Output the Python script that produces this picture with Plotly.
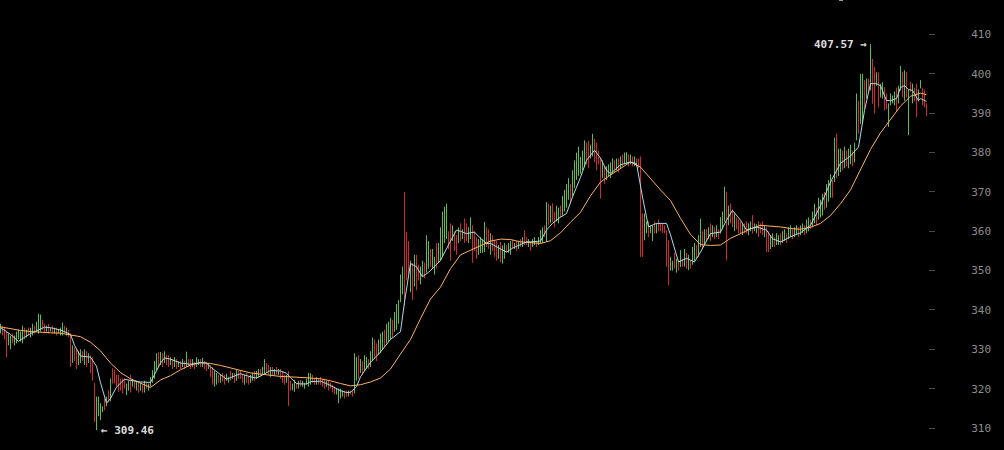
import plotly.graph_objects as go

# ---- per-bar price ranges (one bar every index) ----
low = [
    334.0, 333.5, 332.5, 328.0, 331.0, 330.0, 331.5, 331.0, 331.5, 332.5,
    332.0, 331.5, 332.5, 333.0, 333.5, 333.0, 333.5, 334.0, 334.5, 334.0,
    334.5, 335.0, 334.0, 334.5, 334.0, 334.5, 334.0, 334.0, 333.5, 334.0,
    333.5, 333.5, 334.0, 333.5, 333.0, 325.5, 326.5, 327.0, 325.0, 326.0,
    326.5, 327.0, 326.0, 325.5, 326.5, 324.0, 322.0, 311.5, 309.46, 313.0,
    312.0, 314.0, 314.5, 315.5, 316.5, 316.8, 321.3, 321.3, 320.5, 319.2,
    319.5, 318.8, 320.0, 318.4, 319.5, 319.0, 320.5, 320.0, 319.5, 319.0,
    319.5, 319.0, 319.0, 320.0, 319.5, 320.5, 321.5, 322.5, 324.7, 325.5,
    326.0, 325.5, 326.5, 326.0, 325.5, 326.0, 325.0, 325.5, 325.0, 325.5,
    325.0, 325.5, 325.0, 325.5, 325.5, 325.0, 325.5, 325.0, 325.5, 326.0,
    325.5, 325.5, 325.0, 324.5, 325.0, 323.0, 321.0, 320.5, 321.0, 321.5,
    321.5, 321.8, 321.0, 322.0, 321.5, 322.0, 322.5, 321.5, 322.0, 322.5,
    322.5, 321.5, 321.0, 321.5, 321.0, 321.5, 322.0, 322.0, 322.5, 323.0,
    323.0, 323.5, 323.5, 324.0, 323.5, 323.0, 323.5, 323.5, 323.5, 323.5,
    322.5, 321.5, 321.0, 321.5, 315.6, 319.5, 319.6, 319.2, 320.0, 320.0,
    320.5, 320.5, 320.0, 321.0, 320.5, 321.0, 321.5, 321.0, 321.0, 321.0,
    321.0, 320.5, 320.0, 320.5, 319.5, 320.0, 319.0, 318.5, 318.5, 316.3,
    317.5, 318.0, 317.5, 318.0, 318.0, 318.5, 318.0, 318.8, 322.0, 322.5,
    324.0, 323.5, 324.5, 325.0, 325.0, 325.5, 327.0, 327.5, 327.0, 328.5,
    329.0, 330.0, 330.5, 331.5, 332.0, 332.5, 333.0, 334.5, 335.0, 336.5,
    342.0, 344.0, 341.0, 347.5, 349.0, 344.5, 342.5, 346.0, 345.0, 347.5,
    346.5, 348.5, 348.0, 349.5, 350.5, 351.0, 350.5, 349.0, 350.5, 352.0,
    352.5, 353.5, 357.0, 358.0, 355.5, 352.5, 357.5, 355.0, 354.0, 357.0,
    357.5, 358.0, 357.0, 357.5, 357.0, 358.0, 352.0, 355.0, 353.0, 354.0,
    354.5, 354.5, 354.7, 356.0, 355.5, 354.0, 355.0, 353.5, 352.5, 353.0,
    352.2, 351.8, 353.0, 354.5, 354.5, 354.0, 355.5, 355.5, 355.0, 355.5,
    356.0, 356.0, 356.5, 356.5, 356.0, 355.0, 356.0, 356.5, 356.0, 356.5,
    356.9, 357.0, 358.5, 357.3, 361.5, 362.0, 362.4, 361.0, 362.5, 362.0,
    363.5, 364.0, 365.0, 366.0, 368.0, 367.0, 369.0, 371.0, 373.0, 374.0,
    374.6, 375.5, 376.3, 377.0, 376.0, 378.5, 379.0, 377.5, 375.5, 377.0,
    368.3, 373.5, 372.0, 373.0, 374.0, 373.5, 374.5, 375.0, 375.5, 375.0,
    376.0, 376.5, 377.0, 377.0, 376.5, 377.0, 376.5, 376.5, 376.5, 376.0,
    353.5, 353.5, 357.7, 359.5, 358.5, 359.5, 357.5, 359.5, 359.5, 360.0,
    360.0, 359.5, 359.5, 351.0, 346.3, 350.0, 350.0, 350.5, 349.5, 350.0,
    350.9, 351.0, 351.0, 350.5, 350.1, 350.5, 351.5, 352.5, 353.0, 353.5,
    356.0, 355.5, 356.5, 357.5, 358.0, 357.5, 358.5, 358.0, 358.5, 358.0,
    359.4, 360.5, 362.4, 352.6, 361.5, 362.0, 361.0, 360.0, 360.5, 359.5,
    359.5, 359.0, 359.5, 359.5, 359.0, 360.0, 359.4, 360.0, 359.5, 358.5,
    359.5, 359.0, 358.5, 354.7, 354.7, 355.5, 356.0, 356.0, 356.5, 356.5,
    356.5, 357.0, 357.5, 357.0, 358.0, 358.5, 358.0, 358.5, 359.0, 358.5,
    359.0, 359.5, 359.0, 359.5, 360.0, 360.5, 361.0, 362.0, 361.5, 363.0,
    363.5, 364.0, 365.5, 366.0, 367.5, 368.5, 368.5, 372.5, 373.5, 374.0,
    375.0, 375.5, 376.0, 376.5, 376.0, 377.0, 376.5, 377.5, 383.1, 384.8,
    387.3, 387.7, 391.1, 393.7, 395.5, 395.8, 392.4, 389.9, 397.0, 391.5,
    394.0, 393.7, 390.7, 391.0, 386.5, 392.0, 392.5, 392.0, 390.5, 392.5,
    395.8, 394.0, 393.2, 394.0, 384.4, 395.5, 392.5, 393.0, 389.0, 393.0,
    396.3, 392.0, 391.5, 389.3,
]
high = [
    336.5, 336.0, 335.5, 334.5, 334.0, 333.5, 334.0, 333.5, 334.5, 335.0,
    334.5, 336.0, 335.5, 335.0, 335.5, 335.5, 336.5, 336.0, 337.0, 339.0,
    338.8, 337.5, 336.5, 336.0, 336.5, 335.5, 336.0, 335.5, 335.5, 335.0,
    335.5, 336.8, 336.0, 335.5, 335.0, 334.0, 331.0, 330.5, 330.0, 329.5,
    330.0, 329.5, 330.0, 329.5, 329.0, 328.5, 328.0, 321.5, 318.0, 318.0,
    316.3, 315.5, 317.5, 318.0, 319.6, 322.6, 325.2, 324.8, 323.5, 323.5,
    322.6, 322.6, 322.5, 321.3, 322.0, 323.5, 322.5, 321.8, 322.0, 321.5,
    321.5, 321.0, 322.0, 321.5, 321.3, 323.0, 324.7, 327.0, 329.0, 329.3,
    329.3, 329.0, 329.5, 328.5, 328.5, 328.0, 327.5, 328.0, 327.5, 327.0,
    327.0, 327.5, 327.0, 329.4, 327.5, 327.5, 327.5, 326.8, 328.0, 327.5,
    327.5, 327.8, 327.0, 326.5, 326.5, 326.0, 325.5, 324.5, 324.0, 323.5,
    323.5, 324.0, 323.5, 323.8, 323.0, 324.5, 324.0, 324.0, 325.0, 324.5,
    324.5, 323.5, 323.5, 324.0, 323.0, 323.5, 324.0, 324.5, 324.5, 325.0,
    325.0, 325.5, 327.5, 326.5, 326.0, 325.5, 325.5, 325.0, 325.5, 325.0,
    325.0, 324.5, 323.5, 323.5, 324.5, 322.0, 321.3, 322.2, 321.5, 322.0,
    322.2, 322.0, 321.5, 322.5, 324.0, 323.9, 323.5, 322.5, 323.0, 322.5,
    323.0, 322.5, 322.5, 322.0, 322.0, 321.5, 321.0, 320.5, 320.0, 320.0,
    320.0, 319.5, 319.5, 319.5, 319.5, 319.5, 319.5, 329.0, 328.0, 328.5,
    327.5, 327.0, 328.5, 328.0, 327.5, 329.5, 333.0, 332.5, 331.5, 332.5,
    334.0, 334.5, 335.0, 336.5, 337.0, 338.0, 337.5, 339.5, 341.5, 342.5,
    349.0, 351.0, 370.0, 359.8, 357.5, 352.5, 352.0, 354.0, 354.0, 351.5,
    351.0, 352.5, 352.0, 359.0, 357.5, 355.5, 355.5, 353.5, 357.0, 357.0,
    361.0, 365.0, 366.2, 367.0, 360.0, 362.0, 361.5, 360.0, 359.0, 361.0,
    362.0, 360.5, 363.2, 362.0, 361.0, 363.5, 361.5, 360.0, 358.5, 358.0,
    358.5, 358.0, 362.4, 361.0, 360.5, 359.5, 359.0, 357.7, 357.5, 356.5,
    357.3, 356.4, 357.0, 356.5, 357.0, 357.5, 357.8, 357.0, 357.5, 357.5,
    358.0, 358.5, 360.3, 358.5, 358.0, 357.5, 358.0, 358.5, 357.5, 358.5,
    360.3, 361.0, 361.5, 367.4, 367.0, 366.5, 367.1, 365.0, 366.5, 366.0,
    366.5, 369.0, 370.5, 372.0, 373.5, 372.0, 375.5, 378.0, 380.0, 381.5,
    378.9, 380.5, 383.1, 382.5, 383.0, 382.0, 384.8, 383.5, 382.5, 380.5,
    378.5, 378.0, 376.5, 376.5, 377.0, 377.5, 378.5, 378.0, 378.5, 378.5,
    379.0, 379.5, 380.0, 380.1, 379.5, 379.5, 379.0, 379.0, 378.5, 378.5,
    379.0, 364.5, 364.5, 362.5, 362.5, 361.5, 361.5, 362.5, 362.0, 363.0,
    362.0, 362.0, 361.5, 360.3, 357.7, 353.5, 352.5, 354.5, 353.0, 352.5,
    355.2, 353.0, 355.5, 354.5, 354.0, 352.5, 356.0, 357.0, 356.5, 359.0,
    363.2, 360.0, 360.5, 360.5, 361.0, 362.0, 361.5, 361.0, 361.5, 360.5,
    363.6, 365.0, 371.3, 370.0, 366.5, 367.0, 365.5, 364.5, 363.5, 363.0,
    362.5, 362.0, 362.0, 362.5, 362.0, 362.5, 364.1, 362.0, 361.8, 362.5,
    362.0, 362.5, 361.5, 361.0, 360.0, 359.0, 359.5, 358.5, 359.5, 359.0,
    359.5, 360.0, 360.5, 359.5, 361.0, 361.5, 360.5, 361.0, 361.5, 361.0,
    361.5, 362.0, 361.5, 363.0, 363.5, 363.0, 365.0, 367.0, 366.0, 368.5,
    368.0, 369.5, 370.0, 372.0, 373.0, 374.5, 373.0, 383.8, 384.8, 381.0,
    381.0, 380.5, 381.5, 380.5, 381.0, 382.0, 380.5, 382.5, 395.0, 393.2,
    400.0, 400.0, 398.4, 398.8, 398.8, 407.57, 403.8, 401.7, 400.4, 400.4,
    397.5, 397.9, 396.6, 395.0, 392.5, 395.0, 394.5, 395.5, 396.5, 397.0,
    402.0, 400.5, 400.9, 400.5, 396.0, 398.0, 397.5, 396.5, 397.5, 396.0,
    398.4, 396.5, 396.0, 392.5,
]
# g = up bar, r = down bar (groups of ten bars)
direction_groups = [
    "grrrggrggg", "ggrgrggrgg", "grrgrgrgrg", "ggrgrrgrrg", "grgrgrrrgg",
    "ggrgrgrrrr", "rrrggrgrgr", "grgrgggggr", "grgrrgrgrg", "rgrgrrgrgg",
    "rgrrgrrggr", "grrggrgrgr", "rrgrrggrgg", "rggrrgrgrg", "rrrgrrggrg",
    "rgggggrrgr", "rrrgrrrrgg", "ggrrgrrggr", "grggrggrrg", "ggrgggrggg",
    "ggrrrgrgrr", "ggrggrggrg", "ggggrrgrrg", "rgrrggrrrg", "gggrrgrrrg",
    "rggrggrgrg", "rgrrgrggrg", "ggrgrgrrgg", "rggggrgggg", "gggrrggrrr",
    "rgrggggrgr", "grggrgrgrr", "rrggrggrgr", "rrrrrggrgr", "grgrgrggrg",
    "grgrgrgrgr", "gggrgrrgrr", "rgrrggrggr", "rrgrrggrgg", "rggrggrggr",
    "ggrggrggrg", "ggrgggrgrg", "grgrggrggr", "ggrgrgrrgr", "ggrrggggrg",
    "grgrgrgrrg", "grrr",
]
direction = "".join(direction_groups)

# ---- moving averages (bar number -> value) ----
fast_bar = [0, 5, 9, 10, 15, 20, 22, 25, 30, 35, 37, 40, 45, 48, 50, 53, 55, 58, 60, 62,
            65, 70, 75, 78, 80, 82, 85, 90, 95, 100, 103, 105, 110, 113, 115, 120, 125, 128, 130, 133,
            135, 140, 143, 145, 148, 150, 153, 155, 160, 163, 165, 170, 173, 175, 178, 180, 185, 190, 195, 200,
            202, 205, 208, 211, 215, 220, 225, 228, 230, 233, 235, 237, 240, 243, 245, 250, 253, 256, 260, 263,
            265, 270, 273, 276, 280, 283, 286, 290, 293, 297, 300, 303, 305, 310, 315, 318, 321, 324, 328, 333,
            335, 339, 343, 347, 350, 355, 360, 363, 366, 370, 373, 378, 383, 386, 390, 395, 400, 405, 410, 415,
            420, 425, 429, 432, 435, 438, 440, 443, 445, 448, 450, 452, 454, 456, 459, 460, 463]
fast_ma = [335.5, 333.8, 332.0, 332.4, 334.0, 335.1, 335.6, 335.5, 334.9, 333.8, 331.0, 328.3, 328.0, 325.7, 321.5, 316.3, 317.5, 320.4, 321.3, 322.4,
           322.1, 321.7, 321.6, 324.7, 326.5, 327.8, 327.5, 326.5, 326.2, 326.6, 326.5, 325.5, 323.7, 322.4, 322.8, 323.8, 323.0, 322.7, 323.2, 324.0,
           324.6, 324.5, 323.9, 322.8, 321.3, 321.2, 321.2, 321.8, 321.9, 321.3, 320.8, 319.5, 319.0, 319.1, 320.5, 323.0, 326.7, 329.3, 332.5, 334.5,
           342.0, 351.8, 351.0, 348.4, 350.0, 352.6, 357.5, 360.3, 360.0, 359.4, 359.6, 359.8, 358.2, 356.9, 356.9, 355.4, 354.7, 355.7, 356.6, 357.3,
           357.3, 357.5, 360.3, 362.0, 363.6, 364.5, 368.7, 373.7, 378.0, 380.6, 378.6, 375.5, 374.6, 376.9, 377.6, 377.2, 368.7, 361.1, 362.0, 362.0,
           359.1, 352.2, 353.1, 352.2, 354.7, 359.4, 359.8, 362.8, 365.3, 362.8, 360.3, 361.1, 360.3, 358.1, 357.3, 358.6, 359.6, 361.5, 366.5, 372.5,
           377.3, 379.1, 381.4, 390.7, 397.5, 397.5, 397.0, 393.2, 393.2, 393.7, 396.5, 397.0, 396.0, 395.8, 393.2, 393.7, 393.0]

slow_bar = [0, 5, 10, 15, 20, 25, 30, 35, 40, 45, 50, 55, 60, 65, 70, 75, 80, 85, 90, 95,
            100, 105, 110, 115, 120, 125, 130, 135, 140, 145, 150, 155, 160, 165, 170, 175, 180, 185, 190, 195,
            200, 205, 210, 215, 220, 225, 230, 235, 240, 245, 250, 255, 260, 265, 270, 275, 280, 285, 290, 295,
            300, 305, 310, 315, 320, 325, 330, 335, 340, 345, 350, 355, 360, 365, 370, 375, 380, 385, 390, 395,
            400, 405, 410, 415, 420, 425, 430, 435, 440, 445, 450, 455, 460, 463]
slow_ma = [335.7, 335.2, 334.8, 334.5, 334.3, 334.2, 334.1, 333.6, 333.2, 331.8, 329.6, 326.5, 324.1, 322.5, 321.3, 320.3, 322.2, 323.3, 324.8, 326.0,
           326.6, 326.4, 325.9, 325.3, 324.6, 324.0, 323.7, 323.4, 323.1, 323.0, 322.9, 322.7, 322.5, 322.0, 321.3, 320.7, 321.0, 321.7, 322.7, 325.0,
           328.8, 332.5, 337.8, 342.8, 345.8, 350.5, 354.0, 355.2, 356.5, 357.5, 358.0, 357.9, 357.3, 357.1, 356.9, 357.6, 359.6, 362.3, 364.8, 369.0,
           372.5, 374.3, 376.0, 377.6, 376.3, 373.3, 370.5, 367.8, 363.3, 359.2, 356.6, 356.4, 356.5, 358.2, 359.4, 360.6, 361.5, 361.3, 361.1, 360.7,
           360.5, 361.0, 362.0, 364.0, 367.0, 370.5, 375.5, 380.8, 385.0, 388.5, 391.8, 394.3, 395.1, 394.7]

y_ticks = [310, 320, 330, 340, 350, 360, 370, 380, 390, 400, 410]

assert len(low) == len(high) == len(direction)
assert len(fast_bar) == len(fast_ma) and len(slow_bar) == len(slow_ma)

# ---- build figure ----
UP, DOWN = "#5cbf45", "#d02a2a"


def segments(kind):
    xs, ys = [], []
    for i, (lo, hi, d) in enumerate(zip(low, high, direction)):
        if d == kind:
            xs += [i, i, None]
            ys += [lo, hi, None]
    return xs, ys


fig = go.Figure()
for kind, col in (("g", UP), ("r", DOWN)):
    xs, ys = segments(kind)
    fig.add_trace(go.Scatter(x=xs, y=ys, mode="lines", line=dict(color=col, width=1),
                             hoverinfo="skip", showlegend=False))

fig.add_trace(go.Scatter(x=slow_bar, y=slow_ma, mode="lines",
                         line=dict(color="#ffb35c", width=1), showlegend=False))
fig.add_trace(go.Scatter(x=fast_bar, y=fast_ma, mode="lines",
                         line=dict(color="#a9daf0", width=1), showlegend=False))

i_max = high.index(max(high))
i_min = low.index(min(low))
ann_font = dict(family="DejaVu Sans Mono", size=11, color="#dcdcdc", weight="bold")
fig.add_annotation(x=i_max, y=high[i_max], text=f"{high[i_max]:.2f} \u2192",
                   xanchor="right", yanchor="middle", showarrow=False, xshift=-2,
                   font=ann_font)
fig.add_annotation(x=i_min, y=low[i_min], text=f"\u2190 {low[i_min]:.2f}",
                   xanchor="left", yanchor="middle", showarrow=False, xshift=2,
                   font=ann_font)

fig.add_shape(type="line", xref="paper", yref="paper", x0=839 / 928, x1=843 / 928,
              y0=1, y1=1, line=dict(color="#9a9a9a", width=2))

fig.update_layout(
    width=1004, height=450,
    margin=dict(l=0, r=76, t=0, b=0),
    paper_bgcolor="#000000", plot_bgcolor="#000000",
    hovermode=False,
    xaxis=dict(visible=False, range=[-0.25, len(low) - 0.25]),
    yaxis=dict(side="right", range=[304.409, 418.767], tickvals=y_ticks,
               showgrid=False, zeroline=False, showline=False,
               ticks="outside", ticklen=6, tickwidth=1, tickcolor="#4a4a4a",
               ticklabelstandoff=34,
               tickfont=dict(family="DejaVu Sans Mono", size=11, color="#8c8c8c")),
)

fig.write_html("out.html",
               config={"displayModeBar": False, "staticPlot": True},
               post_script="document.body.style.margin='0';document.body.style.background='#000';")
